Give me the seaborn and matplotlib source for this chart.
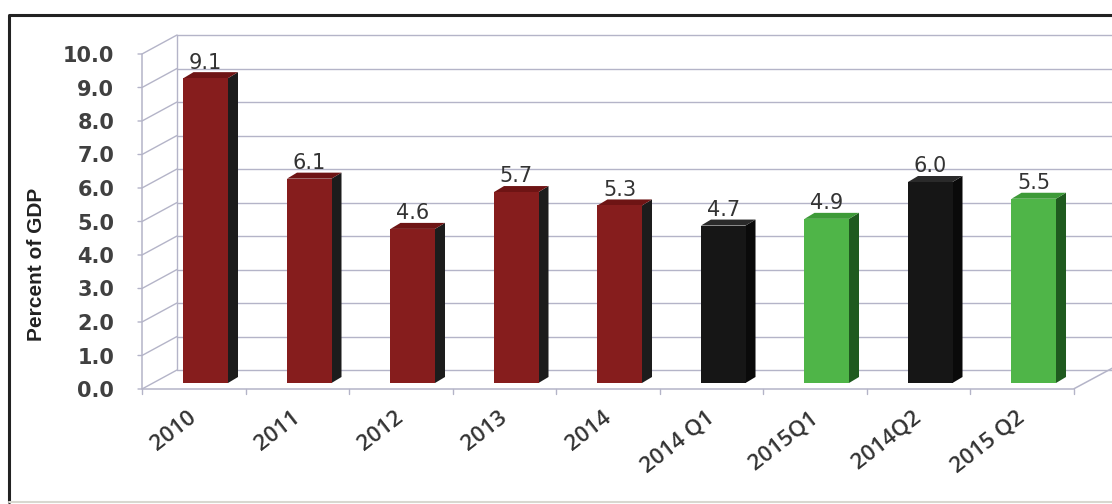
import matplotlib
matplotlib.use("Agg")
import matplotlib.pyplot as plt
import matplotlib.transforms as mtransforms
from matplotlib.patches import Polygon
from matplotlib.lines import Line2D
import seaborn as sns
import pandas as pd

# ---- data -------------------------------------------------------------
periods = ["2010", "2011", "2012", "2013", "2014",
           "2014 Q1", "2015Q1", "2014Q2", "2015 Q2"]
deficit = [9.1, 6.1, 4.6, 5.7, 5.3, 4.7, 4.9, 6.0, 5.5]
groups = ["annual", "annual", "annual", "annual", "annual",
          "q2014", "q2015", "q2014", "q2015"]
y_ticks = [0, 1, 2, 3, 4, 5, 6, 7, 8, 9, 10]
y_label = "Percent of GDP"

front_colors = {"annual": "#861d1d", "q2014": "#161616", "q2015": "#4fb548"}
side_colors = {"annual": "#1c1c1c", "q2014": "#0a0a0a", "q2015": "#1f5a1f"}
top_colors = {"annual": "#6e1414", "q2014": "#2a2a2a", "q2015": "#3d9a38"}

df = pd.DataFrame({"period": periods, "value": deficit, "group": groups})

sns.set_theme(style="white")
plt.rcParams["font.family"] = ["DejaVu Sans"]

W, H, DPI = 1112, 504, 100
fig = plt.figure(figsize=(W / DPI, H / DPI), dpi=DPI)

# bar plane geometry (pixels)
x_left, x_right = 154, 1085.5
y_zero, y_ten = 383, 48
ax = fig.add_axes([x_left / W, (H - y_zero) / H,
                   (x_right - x_left) / W, (y_zero - y_ten) / H])
ax.set_xlim(-0.5, 8.5)
ax.set_ylim(0, 10)
ax.patch.set_alpha(0)
for s in ax.spines.values():
    s.set_visible(False)

grid_col = "#b4b4c8"
# depth offsets of back wall and front edge, in pixels
back_dx, back_dy = 23, 13
front_dx, front_dy = -12, -6

back_tr = mtransforms.offset_copy(ax.transData, fig=fig, x=back_dx, y=back_dy, units="dots")
front_tr = mtransforms.offset_copy(ax.transData, fig=fig, x=front_dx, y=front_dy, units="dots")

# back wall gridlines
for t in y_ticks:
    ax.plot([-0.5, 8.5 + 20 / 103.5], [t, t], color=grid_col, lw=1.0,
            transform=back_tr, zorder=0, clip_on=False)
ax.plot([-0.5, -0.5], [0, 10], color=grid_col, lw=1.0, transform=back_tr,
        zorder=0, clip_on=False)


def to_disp(tr, x, y):
    return tr.transform((x, y))


# side wall diagonals and floor
for t in y_ticks:
    p0 = to_disp(front_tr, -0.5, t)
    p1 = to_disp(back_tr, -0.5, t)
    fig.add_artist(Line2D([p0[0] - 4, p0[0], p1[0]], [p0[1], p0[1], p1[1]],
                          transform=None, color=grid_col, lw=1.0, zorder=1))
pf0 = to_disp(front_tr, -0.5, 0)
pf1 = to_disp(front_tr, 8.5, 0)
pb1 = to_disp(back_tr, 8.5, 0)
pt0 = to_disp(front_tr, -0.5, 10)
fig.add_artist(Line2D([pt0[0], pf0[0], pf1[0], pb1[0] + 6],
                      [pt0[1], pf0[1], pf1[1], pb1[1] + 3],
                      transform=None, color=grid_col, lw=1.1, zorder=1))
for i in range(10):
    p = to_disp(front_tr, i - 0.5, 0)
    fig.add_artist(Line2D([p[0], p[0]], [p[1], p[1] - 5], transform=None,
                          color=grid_col, lw=1.0, zorder=1))

# front faces of the bars
bar_w = 0.43
sns.barplot(data=df, x="period", y="value", hue="group", palette=front_colors,
            order=periods, dodge=False, width=bar_w, legend=False, ax=ax,
            saturation=1, zorder=3, linewidth=0)
ax.set_xlim(-0.5, 8.5)
ax.set_ylim(0, 10)

# side and top faces from each bar's geometry
px_x = (x_right - x_left) / 9.0
px_y = (y_zero - y_ten) / 10.0
ddx = 10 / px_x
ddy = 6 / px_y
for i, (v, g) in enumerate(zip(deficit, groups)):
    x0, x1 = i - bar_w / 2, i + bar_w / 2
    side = Polygon([(x1, 0), (x1 + ddx, ddy), (x1 + ddx, v + ddy), (x1, v)],
                   closed=True, facecolor=side_colors[g], edgecolor="none", zorder=2.9)
    top = Polygon([(x0, v), (x0 + ddx, v + ddy), (x1 + ddx, v + ddy), (x1, v)],
                  closed=True, facecolor=top_colors[g], edgecolor="none", zorder=2.9)
    ax.add_patch(side)
    ax.add_patch(top)
    ax.annotate(f"{v:.1f}", xy=(i, v), xytext=(0, 4), textcoords="offset points",
                ha="center", va="bottom", fontsize=15, color="#333333", zorder=5)

# axis ticks and labels placed along the front edge
ax.set_yticks(y_ticks)
ax.set_yticklabels([f"{t:.1f}" for t in y_ticks], fontsize=15, fontweight="bold",
                   color="#404040")
ax.tick_params(axis="y", length=0, pad=20)
ax.set_xticks(range(len(periods)))
ax.set_xticklabels(periods, rotation=38, ha="right", rotation_mode="anchor",
                   fontsize=16, fontweight="semibold", family="Open Sans",
                   color="#333333")
ax.tick_params(axis="x", length=0, pad=13)
shift_y = mtransforms.ScaledTranslation(front_dx / DPI, front_dy / DPI, fig.dpi_scale_trans)
shift_x = mtransforms.ScaledTranslation((front_dx - 6) / DPI, front_dy / DPI, fig.dpi_scale_trans)
for lab in ax.get_yticklabels():
    lab.set_transform(lab.get_transform() + shift_y)
for lab in ax.get_xticklabels():
    lab.set_transform(lab.get_transform() + shift_x)
ax.set_xlabel("")
ax.set_ylabel("")

fig.text(37 / W, 1 - 264 / H, y_label, rotation=90, ha="center", va="center",
         fontsize=15, fontweight="bold", family=["Liberation Sans", "DejaVu Sans"],
         color="#222222")

# outer frame
fig.add_artist(Line2D([9 / W, 9 / W, 1.0], [2 / H, 1 - 15 / H, 1 - 15 / H],
                      transform=fig.transFigure, color="#222222", lw=2.2))
fig.add_artist(Line2D([9 / W, 1.0], [2 / H, 2 / H], transform=fig.transFigure,
                      color="#d8d8d0", lw=1.5))

fig.savefig("out.png", dpi=DPI)
